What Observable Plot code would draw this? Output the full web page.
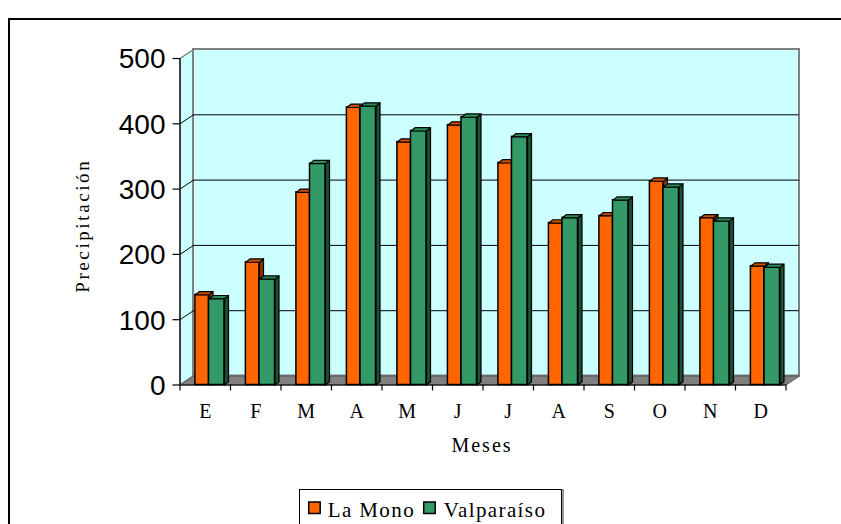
<!DOCTYPE html>
<html><head><meta charset="utf-8">
<script src="https://cdn.jsdelivr.net/npm/d3@7"></script>
<script src="https://cdn.jsdelivr.net/npm/@observablehq/plot@0.6"></script>
<style>
body{margin:0;background:#fff;}
#wrap{position:relative;width:841px;height:524px;overflow:hidden;background:#fff;}
#chart{position:absolute;left:0;top:0;}
#frame{position:absolute;left:8px;top:18px;width:900px;height:600px;border:2.5px solid #000;}
#legend{position:absolute;left:299px;top:489px;width:261px;height:40px;border:1px solid #000;box-shadow:2px 0 0 #999;background:#fff;}
#legend svg{position:absolute;left:0;top:0;}
</style></head><body>
<div id="wrap"><div id="chart"></div><div id="frame"></div><div id="legend"></div></div>
<script>
const months = ["E","F","M","A","M","J","J","A","S","O","N","D"];
const laMono = [138,188,295,425,372,398,340,248,259,312,256,182];
const valparaiso = [132,162,339,427,389,410,380,256,283,303,251,180];
const seriesNames = ["La Mono","Valparaíso"];
const yTicks = [0,100,200,300,400,500];
const gridVals = [100,200,300,400];

const colors = [
  {front:"#FF6600", top:"#C84E00", side:"#8F3300"},
  {front:"#339966", top:"#2C8A5B", side:"#1C4F36"}
];

const W = 841, H = 524, mL = 179.5, mR = 55.5, mT = 58, mB = 139.5;
const pxX = 12 / (W - mL - mR);
const pxY = 500 / (H - mT - mB);
const wallDX = 13.5 * pxX, wallDY = 9 * pxY;
const barDX = 4 * pxX, barDY = 3.3 * pxY;
const slots = [[15.4, 29], [29, 44.5]].map(([a, b]) => [a * pxX, b * pxX]);

const seriesData = [laMono, valparaiso];
const bars = seriesData.map((vals, s) => vals.map((v, i) => ({
  s, i, v, x1: i + slots[s][0], x2: i + slots[s][1]
})));
function sidePolys(list) {
  return list.flatMap(b => [
    {id: b.i, x: b.x2, y: 0}, {id: b.i, x: b.x2, y: b.v},
    {id: b.i, x: b.x2 + barDX, y: b.v + barDY}, {id: b.i, x: b.x2 + barDX, y: barDY}
  ]);
}
function topPolys(list) {
  return list.flatMap(b => [
    {id: b.i, x: b.x1, y: b.v}, {id: b.i, x: b.x2, y: b.v},
    {id: b.i, x: b.x2 + barDX, y: b.v + barDY}, {id: b.i, x: b.x1 + barDX, y: b.v + barDY}
  ]);
}

const leftWall = [{x:0,y:0},{x:0,y:500},{x:wallDX,y:500+wallDY},{x:wallDX,y:wallDY}];
const floor = [{x:0,y:0},{x:12,y:0},{x:12+wallDX,y:wallDY},{x:wallDX,y:wallDY}];

const barMarks = [];
bars.forEach((list, s) => {
  barMarks.push(Plot.rect(list, {x1: "x1", x2: "x2", y1: 0, y2: "v", fill: colors[s].front, stroke: "#000", strokeWidth: 1.5}));
  barMarks.push(Plot.line(sidePolys(list), {x: "x", y: "y", z: "id", curve: "linear-closed", fill: colors[s].side, stroke: "#000", strokeWidth: 1.2}));
  barMarks.push(Plot.line(topPolys(list), {x: "x", y: "y", z: "id", curve: "linear-closed", fill: colors[s].top, stroke: "#000", strokeWidth: 1.2}));
});

const serif = "Liberation Serif, Times New Roman, serif";
const sans = "Liberation Sans, Arial, sans-serif";

const plot = Plot.plot({
  width: W, height: H,
  marginLeft: mL, marginRight: mR, marginTop: mT, marginBottom: mB,
  x: {domain: [0, 12], axis: null},
  y: {domain: [0, 500], axis: null},
  marks: [
    Plot.line(leftWall, {x: "x", y: "y", curve: "linear-closed", fill: "#CCFFFF", stroke: "#808080", strokeWidth: 1.5}),
    Plot.rect([0], {x1: wallDX, x2: 12 + wallDX, y1: wallDY, y2: 500 + wallDY, fill: "#CCFFFF", stroke: "#808080", strokeWidth: 2}),
    Plot.line(floor, {x: "x", y: "y", curve: "linear-closed", fill: "#808080", stroke: "#555", strokeWidth: 1}),
    Plot.ruleY(gridVals, {y: d => d + wallDY, x1: wallDX, x2: 12 + wallDX, stroke: "#000", strokeWidth: 1}),
    Plot.link(gridVals, {x1: 0, y1: d => d, x2: wallDX, y2: d => d + wallDY, stroke: "#000", strokeWidth: 1}),
    Plot.ruleX([0], {y1: 0, y2: 500, stroke: "#000", strokeWidth: 1.2}),
    Plot.ruleY(yTicks, {x1: -7 * pxX, x2: 0, stroke: "#000", strokeWidth: 1.2}),
    Plot.ruleY([0], {x1: 0, x2: 12, stroke: "#000", strokeWidth: 1.2}),
    Plot.ruleX(d3.range(13), {y1: 0, y2: -6 * pxY, stroke: "#000", strokeWidth: 1.2}),
    ...barMarks,
    Plot.text(yTicks, {x: 0, y: d => d, text: d => String(d), dx: -14.5, dy: 1, textAnchor: "end", fontSize: 28, fontFamily: sans, fill: "#000"}),
    Plot.text(months, {x: (d, i) => i + 0.5, y: 0, text: d => d, dy: 27, fontSize: 20, fontFamily: serif, fill: "#000"}),
    Plot.text(["Meses"], {x: 6, y: 0, text: d => d, dx: -1, dy: 61, fontSize: 20, fontFamily: serif, fill: "#000"}),
    Plot.text(["Precipitación"], {x: 0, y: 250, text: d => d, dx: -97, dy: 4, rotate: -90, fontSize: 19, fontFamily: serif, fill: "#000"})
  ]
});
d3.select(plot).selectAll("text")
  .filter(function() { return this.textContent === "Meses" || this.textContent === "Precipitación"; })
  .style("letter-spacing", function() { return this.textContent === "Meses" ? "2px" : "2.6px"; });
document.getElementById("chart").appendChild(plot);

// legend (SVG with real text)
const legendPos = [{sw: 8.7, lb: 27.7}, {sw: 123.7, lb: 143.7}];
const lsvg = d3.select("#legend").append("svg").attr("width", 261).attr("height", 40);
seriesNames.forEach((name, s) => {
  lsvg.append("rect").attr("x", legendPos[s].sw).attr("y", 12).attr("width", 11.5).attr("height", 11.5)
    .attr("fill", colors[s].front).attr("stroke", "#000").attr("stroke-width", 1.5);
  lsvg.append("text").attr("x", legendPos[s].lb).attr("y", 27)
    .attr("font-family", serif).attr("font-size", 21).attr("fill", "#000")
    .style("letter-spacing", "1.4px").text(name);
});
</script>
</body></html>
